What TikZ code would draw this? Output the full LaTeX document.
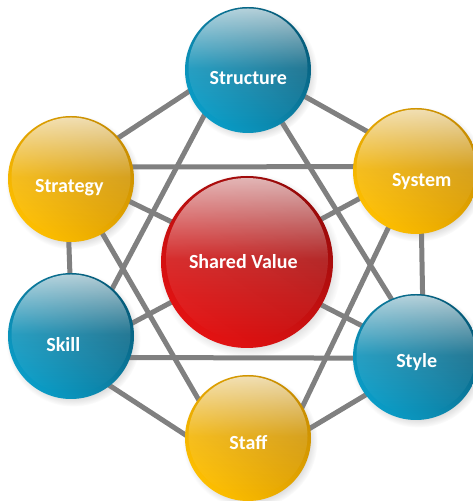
\documentclass[tikz,border=0pt]{standalone}
\usepackage{fontspec}
\setmainfont{Carlito}
\usetikzlibrary{shadows,fadings}
\pgfdeclarelayer{background}
\pgfsetlayers{background,main}
\definecolor{linegray}{HTML}{808080}
\definecolor{blueDark}{HTML}{055C7A}
\definecolor{blueMid}{HTML}{0C7EA2}
\definecolor{blueLight}{HTML}{0A9CC6}
\definecolor{goldDark}{HTML}{C98E00}
\definecolor{goldMid}{HTML}{E3A400}
\definecolor{goldLight}{HTML}{FDBE00}
\definecolor{redDark}{HTML}{980A0A}
\definecolor{redMid}{HTML}{C21010}
\definecolor{redLight}{HTML}{E31212}
\tikzfading[name=gloss, top color=transparent!30, bottom color=transparent!100, middle color=transparent!88]
\begin{document}
\begin{tikzpicture}[x=1pt,y=1pt,
  ball/.style={circle, inner sep=0pt, outer sep=0pt, minimum size=126pt,
    circular drop shadow={shadow xshift=2pt, shadow yshift=-3pt, shadow scale=1.07, opacity=0.3}},
  blueball/.style={ball, top color=blueDark, bottom color=blueLight, middle color=blueMid, shading angle=-45},
  goldball/.style={ball, top color=goldDark, bottom color=goldLight, middle color=goldMid, shading angle=-45},
  redball/.style={ball, minimum size=172pt, top color=redDark, bottom color=redLight, middle color=redMid, shading angle=-35},
  gloss/.style={fill=white, path fading=gloss},
  balltext/.style={text=white, font=\bfseries\fontsize{20}{24}\selectfont, anchor=base, inner sep=0pt},
  link/.style={draw=linegray, line width=5pt, shorten <=-3pt, shorten >=-3pt}]
\useasboundingbox (0,0) rectangle (473,501);

% balls
\node[blueball] (structure) at (248,431) {};
\node[goldball] (strategy) at (71,322) {};
\node[goldball] (system) at (416,330) {};
\node[blueball] (skill) at (71,165) {};
\node[blueball] (style) at (416,144) {};
\node[goldball] (staff) at (248,63) {};
\node[redball] (shared) at (247,239) {};

% glossy highlights
\foreach \n in {structure,strategy,system,skill,style,staff}
  \fill[gloss] ([yshift=2pt]\n.center) circle [radius=59.5];
\fill[gloss] ([yshift=3pt]shared.center) circle [radius=81];

% labels
\node[balltext] (structure-t) at (248.3,416.9) {Structure};
\node[balltext] (strategy-t) at (69.3,308.6) {Strategy};
\node[balltext] (system-t) at (421.7,314.3) {System};
\node[balltext] (skill-t) at (63.3,149.6) {Skill};
\node[balltext] (style-t) at (416.7,133.9) {Style};
\node[balltext] (staff-t) at (248.3,51.9) {Staff};
\node[balltext] (shared-t) at (243.3,232.3) {Shared Value};

% connectors
\begin{pgfonlayer}{background}
\draw[link] (strategy.41.5) -- (structure.200);
\draw[link] (structure.-25.6) -- (system.141.3);
\draw[link] (strategy.11.3) -- (system.176);
\draw[link] (strategy.268.5) -- (skill.91.5);
\draw[link] (system.275.3) -- (style.84.7);
\draw[link] (skill.-20.7) -- (style.181.2);
\draw[link] (skill.-52.7) -- (staff.177.8);
\draw[link] (style.217.7) -- (staff.9);
\draw[link] (structure.226.5) -- (skill.49);
\draw[link] (structure.-57.2) -- (style.113.6);
\draw[link] (strategy.-60) -- (staff.142.6);
\draw[link] (system.244.5) -- (staff.30.3);
\draw[link] (strategy.-21) -- (shared.152.4);
\draw[link] (system.206) -- (shared.30.8);
\draw[link] (skill.12) -- (shared.208.2);
\draw[link] (style.150.2) -- (shared.-30);
\end{pgfonlayer}
\end{tikzpicture}
\end{document}
